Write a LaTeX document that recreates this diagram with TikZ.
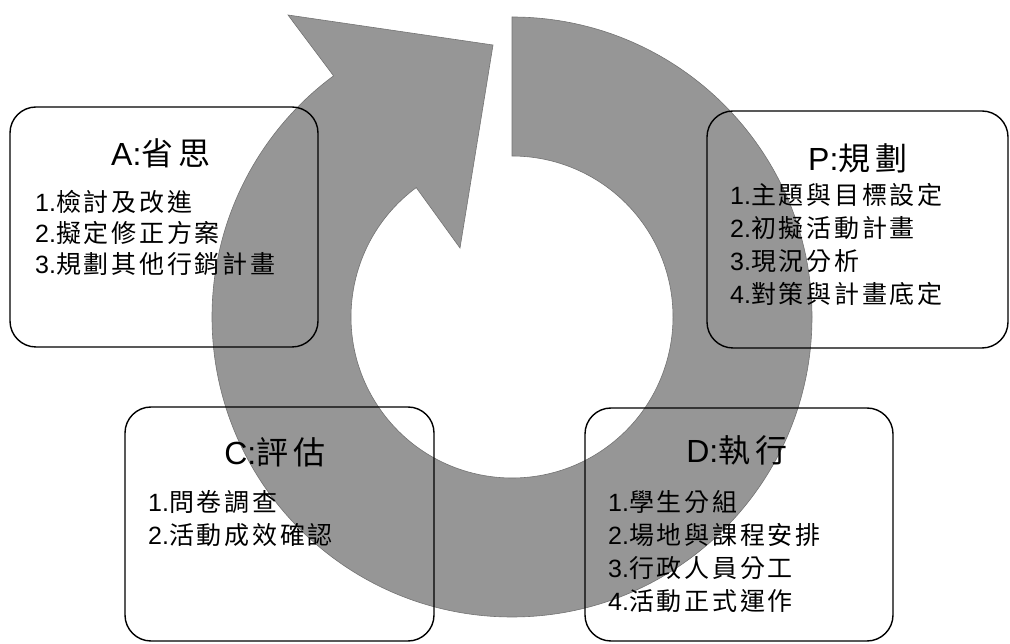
\documentclass[tikz,border=0pt]{standalone}
\usepackage{fontspec}
\setmainfont{Liberation Sans}
\newfontfamily\cjk[LetterSpace=11]{Noto Sans CJK TC}
\newfontfamily\cjkhead[LetterSpace=17]{Noto Sans CJK TC}
\newcommand{\zh}[1]{{\cjk #1}}
\newcommand{\zhhead}[1]{{\cjkhead #1}}
\usetikzlibrary{calc,positioning}
\definecolor{ringgray}{RGB}{150,150,150}
\tikzset{
  box/.style={draw=black, line width=1.4pt, rounded corners=26pt, inner sep=0pt},
  head/.style={font=\fontsize{32}{32}\selectfont, inner sep=0pt},
  item/.style={font=\fontsize{25}{25}\selectfont, inner sep=0pt, anchor=west},
}

\begin{document}
\begin{tikzpicture}[x=1pt,y=1pt]
      \useasboundingbox (0,0) rectangle (1010,643);
      \def\R{300}      % outer radius of ring
      \def\r{161}      % inner radius of ring
      \def\tail{126.5} % angle where the shaft meets the head
      \coordinate (O) at (512,326);
      % ring arrow
      \fill[ringgray, draw=black!55, line width=0.6pt]
        ($(O)+(90:\R)$) arc[start angle=90, end angle=\tail-360, radius=\R]
        -- (288,628) -- (493,598) -- (460,395) -- ($(O)+(\tail:\r)$)
        arc[start angle=\tail-360, end angle=90, radius=\r] -- cycle;
      %
      \node[box, minimum width=308pt, minimum height=240pt] (boxA) at (164,416) {};
      \node[box, minimum width=301pt, minimum height=237pt] (boxP) at (857.5,413.5) {};
      \node[box, minimum width=309pt, minimum height=234pt] (boxC) at (279.5,119) {};
      \node[box, minimum width=308pt, minimum height=233pt] (boxD) at (739,118.5) {};
      %
      \node[head] (headA) at (161,490) {A:\zhhead{省思}};
      \node[head] (headP) at (858,485) {P:\zhhead{規劃}};
      \node[head] (headC) at (275,191) {C:\zhhead{評估}};
      \node[head] (headD) at (737,193) {D:\zhhead{執行}};
      %
      \foreach \txt [count=\i] in {檢討及改進,擬定修正方案,規劃其他行銷計畫} {%
        \node[item] (A\i) at (35,472-31*\i) {\i.\zh{\txt}};
      }
      \foreach \txt [count=\i] in {主題與目標設定,初擬活動計畫,現況分析,對策與計畫底定} {%
        \node[item] (P\i) at (730,481-33*\i) {\i.\zh{\txt}};
      }
      \foreach \txt [count=\i] in {問卷調查,活動成效確認} {%
        \node[item] (C\i) at (148,174-33*\i) {\i.\zh{\txt}};
      }
      \foreach \txt [count=\i] in {學生分組,場地與課程安排,行政人員分工,活動正式運作} {%
        \node[item] (D\i) at (608,174-33*\i) {\i.\zh{\txt}};
      }
    \end{tikzpicture}
\end{document}
